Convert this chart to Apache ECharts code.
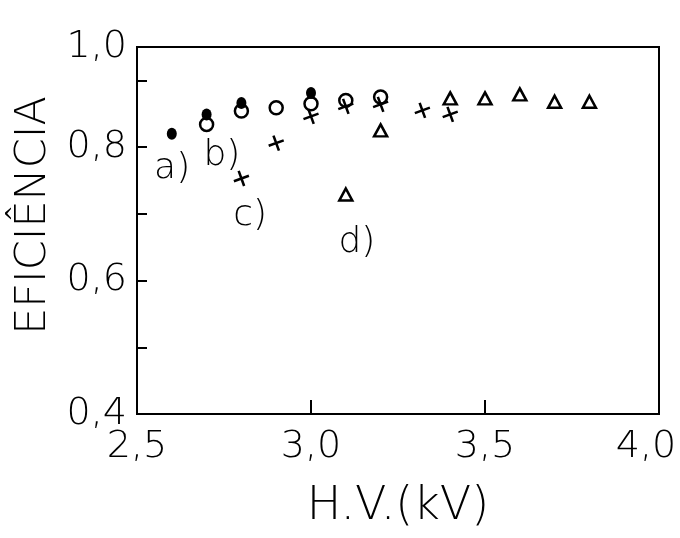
<!DOCTYPE html>
<html><head><meta charset="utf-8">
<script src="https://cdn.jsdelivr.net/npm/echarts@6/dist/echarts.min.js"></script>
<style>html,body{margin:0;padding:0;background:#fff}#c{width:680px;height:538px}</style>
</head><body><div id="c"></div>
<script>
// a) filled circles
const aHV  = [2.6, 2.7, 2.8, 3.0];
const aEff = [0.820, 0.849, 0.866, 0.881];
// b) open circles
const bHV  = [2.7, 2.8, 2.9, 3.0, 3.1, 3.2];
const bEff = [0.834, 0.854, 0.859, 0.865, 0.870, 0.875];
// c) crosses
const cHV  = [2.8, 2.9, 3.0, 3.1, 3.2, 3.32, 3.4];
const cEff = [0.753, 0.806, 0.846, 0.861, 0.864, 0.855, 0.849];
// d) triangles
const dHV  = [3.1, 3.2, 3.4, 3.5, 3.6, 3.7, 3.8];
const dEff = [0.729, 0.825, 0.873, 0.873, 0.879, 0.868, 0.868];
// curve labels
const noteText = ['a)', 'b)', 'c)', 'd)'];
const noteHV   = [2.601, 2.744, 2.825, 3.132];
const noteEff  = [0.767, 0.787, 0.697, 0.657];
// tick labels
const xTickLabels = {'2.5': '2,5', '3': '3,0', '3.5': '3,5', '4': '{r|4,0}'};
const yTickLabels = {'40': '0,4', '60': '0,6', '80': '0,8', '95': '1,0'};

const pairs = (xs, ys) => xs.map((x, i) => [x, ys[i]]);
const FONT = '"DejaVu Sans", sans-serif';
const chart = echarts.init(document.getElementById('c'), null, {renderer: 'canvas'});
chart.setOption({
  backgroundColor: '#fff',
  animation: false,
  grid: {left: 137, right: 21, top: 47, bottom: 124, containLabel: false, outerBoundsMode: 'none',
         show: true, borderColor: '#000', borderWidth: 2},
  xAxis: {
    type: 'value', min: 2.5, max: 4.0, interval: 0.5,
    name: 'H.V.(kV)', nameLocation: 'middle', nameGap: 70,
    nameTextStyle: {fontSize: 46, fontFamily: FONT, fontWeight: 'lighter', color: '#000'},
    axisLine: {lineStyle: {color: '#000', width: 2}},
    axisTick: {inside: true, length: 14, lineStyle: {color: '#000', width: 2}},
    axisLabel: {margin: 14, fontSize: 38, fontFamily: FONT, fontWeight: 'lighter', color: '#000',
      formatter: v => xTickLabels[String(Math.round(v * 10) / 10)] || '',
      rich: {r: {fontSize: 38, fontFamily: FONT, fontWeight: 'lighter', color: '#000', padding: [0, 26, 0, 0]}}},
    splitLine: {show: false}
  },
  yAxis: {
    type: 'value', min: 0.4, max: 0.95, interval: 0.1,
    name: 'EFICIÊNCIA', nameLocation: 'middle', nameGap: 74, nameRotate: 90,
    nameTextStyle: {fontSize: 43, fontFamily: FONT, fontWeight: 'lighter', color: '#000', padding: [0, 0, 0, 30]},
    axisLine: {lineStyle: {color: '#000', width: 2}},
    axisTick: {inside: true, length: 10, lineStyle: {color: '#000', width: 2}},
    axisLabel: {margin: 10, fontSize: 38, fontFamily: FONT, fontWeight: 'lighter', color: '#000',
      formatter: v => yTickLabels[String(Math.round(v * 100))] || ''},
    splitLine: {show: false}
  },
  series: [
    {name: 'b', type: 'scatter', data: pairs(bHV, bEff), symbol: 'circle', symbolSize: 13,
     itemStyle: {color: '#fff', borderColor: '#000', borderWidth: 2.5, opacity: 1}, z: 3},
    {name: 'a', type: 'scatter', data: pairs(aHV, aEff), symbol: 'circle', symbolSize: [10, 12],
     itemStyle: {color: '#000', opacity: 1}, z: 4},
    {name: 'c', type: 'scatter', data: pairs(cHV, cEff),
     symbol: 'path://M4.2,0H5.8V10H4.2Z M0,4.2H10V5.8H0Z', symbolSize: 16, symbolRotate: 20,
     itemStyle: {color: '#000', opacity: 1}, z: 3},
    {name: 'd', type: 'scatter', data: pairs(dHV, dEff), symbol: 'triangle', symbolSize: [13, 12],
     itemStyle: {color: '#fff', borderColor: '#000', borderWidth: 2.5, opacity: 1}, z: 3},
    {name: 'notes', type: 'scatter', symbolSize: 0, silent: true,
     itemStyle: {opacity: 1},
     data: noteHV.map((x, i) => ({value: [x, noteEff[i]], name: noteText[i]})),
     label: {show: true, position: 'inside', formatter: p => p.name, fontSize: 36,
       fontFamily: FONT, fontWeight: 'lighter', color: '#000'}}
  ]
});
</script></body></html>
